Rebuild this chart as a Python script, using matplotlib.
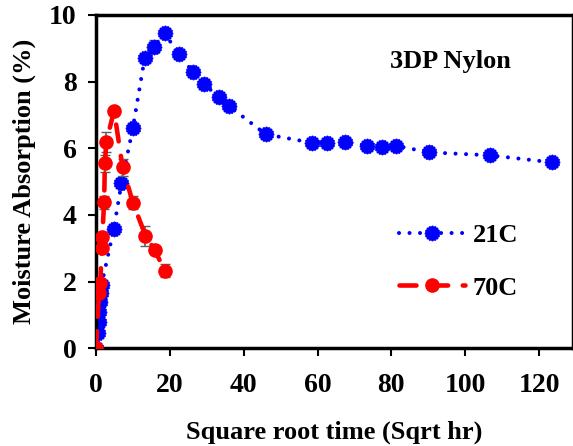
import numpy as np
import matplotlib
matplotlib.use("Agg")
import matplotlib.pyplot as plt
from matplotlib.path import Path

# moisture uptake, 21C run
t_21 = [0, 0.5, 0.7, 0.9, 1.1, 1.3, 1.5, 4.8, 6.9, 10.0, 13.2, 15.7, 18.6,
        22.4, 26.3, 29.2, 33.3, 36.0, 46.0, 58.4, 62.7, 67.5, 73.4, 77.6,
        81.3, 90.1, 106.8, 123.4]
m_21 = [0, 0.45, 0.8, 1.1, 1.4, 1.65, 1.9, 3.57, 4.95, 6.62, 8.72, 9.05, 9.45,
        8.83, 8.28, 7.92, 7.55, 7.27, 6.42, 6.17, 6.15, 6.2, 6.07, 6.05,
        6.08, 5.88, 5.79, 5.58]
err_21 = [0, 0.05, 0.05, 0.05, 0.05, 0.05, 0.05, 0.05, 0.1, 0.05, 0.1, 0.2, 0.05,
          0.05, 0.05, 0.05, 0.05, 0.05, 0.05, 0.05, 0.05, 0.05, 0.05, 0.05,
          0.05, 0.05, 0.05, 0.05]

# moisture uptake, 70C run
t_70 = [0, 0.8, 1.2, 1.5, 1.7, 2.2, 2.4, 2.8, 4.9, 7.2, 10.0, 13.4, 15.9, 18.6]
m_70 = [0, 1.65, 1.97, 3.0, 3.35, 4.38, 5.55, 6.2, 7.13, 5.43, 4.37, 3.38, 2.95, 2.33]
err_70 = [0, 0.1, 0.1, 0.15, 0.15, 0.2, 0.25, 0.3, 0.1, 0.25, 0.2, 0.3, 0.1, 0.2]

plt.rcParams['font.family'] = 'Liberation Serif'
plt.rcParams['font.weight'] = 'bold'
plt.rcParams['font.size'] = 19

# bumpy round marker for the 21C points
th = np.linspace(0, 2 * np.pi, 161)
r = 1 + 0.1 * np.cos(16 * th)
gear = Path(np.column_stack([r * np.cos(th), r * np.sin(th)]), closed=True)

fig = plt.figure(figsize=(5.73, 4.46), dpi=100)
ax = fig.add_axes([96 / 573, 1 - 348.3 / 446, (573 - 96) / 573, (348.3 - 15) / 446])

ax.errorbar(t_21, m_21, yerr=err_21, color='blue', ecolor='#606060', elinewidth=1.2,
            capsize=3.5, linestyle=(0, (0.01, 2.6)), linewidth=2.9,
            dash_capstyle='round', marker=gear, markersize=10.5,
            markeredgecolor='blue', label='21C', zorder=2)
ax.errorbar(t_70, m_70, yerr=err_70, color='red', ecolor='#606060', elinewidth=1.2,
            capsize=3.5, linestyle=(0, (3.7, 3.2)), linewidth=3.3,
            dash_capstyle='round', marker='o', markersize=9.5,
            label='70C', zorder=3)

ax.set_xlim(0, 129.2)
ax.set_ylim(0, 10)
ax.set_xticks(range(0, 121, 20))
ax.set_yticks(range(0, 11, 2))
for s in ['left', 'bottom', 'top', 'right']:
    ax.spines[s].set_linewidth(2.5)
ax.tick_params(direction='out', width=1.5, length=6, labelsize=20)
ax.tick_params(axis='x', pad=12)
ax.tick_params(axis='y', pad=8)

ax.set_xlabel('Square root time (Sqrt hr)', fontweight='bold', labelpad=16)
ax.set_ylabel('Moisture Absorption (%)', fontweight='bold', labelpad=9)
ax.text(0.743, 0.86, '3DP Nylon', transform=ax.transAxes, ha='center',
        va='center', fontweight='bold')

handles, labels = ax.get_legend_handles_labels()
handles = [h[0] for h in handles]
ax.legend(handles, labels, loc='center left', bbox_to_anchor=(0.585, 0.26),
          frameon=False, numpoints=1, handlelength=2.5, handletextpad=0.3,
          labelspacing=1.1)

fig.savefig('out.png', dpi=100)
